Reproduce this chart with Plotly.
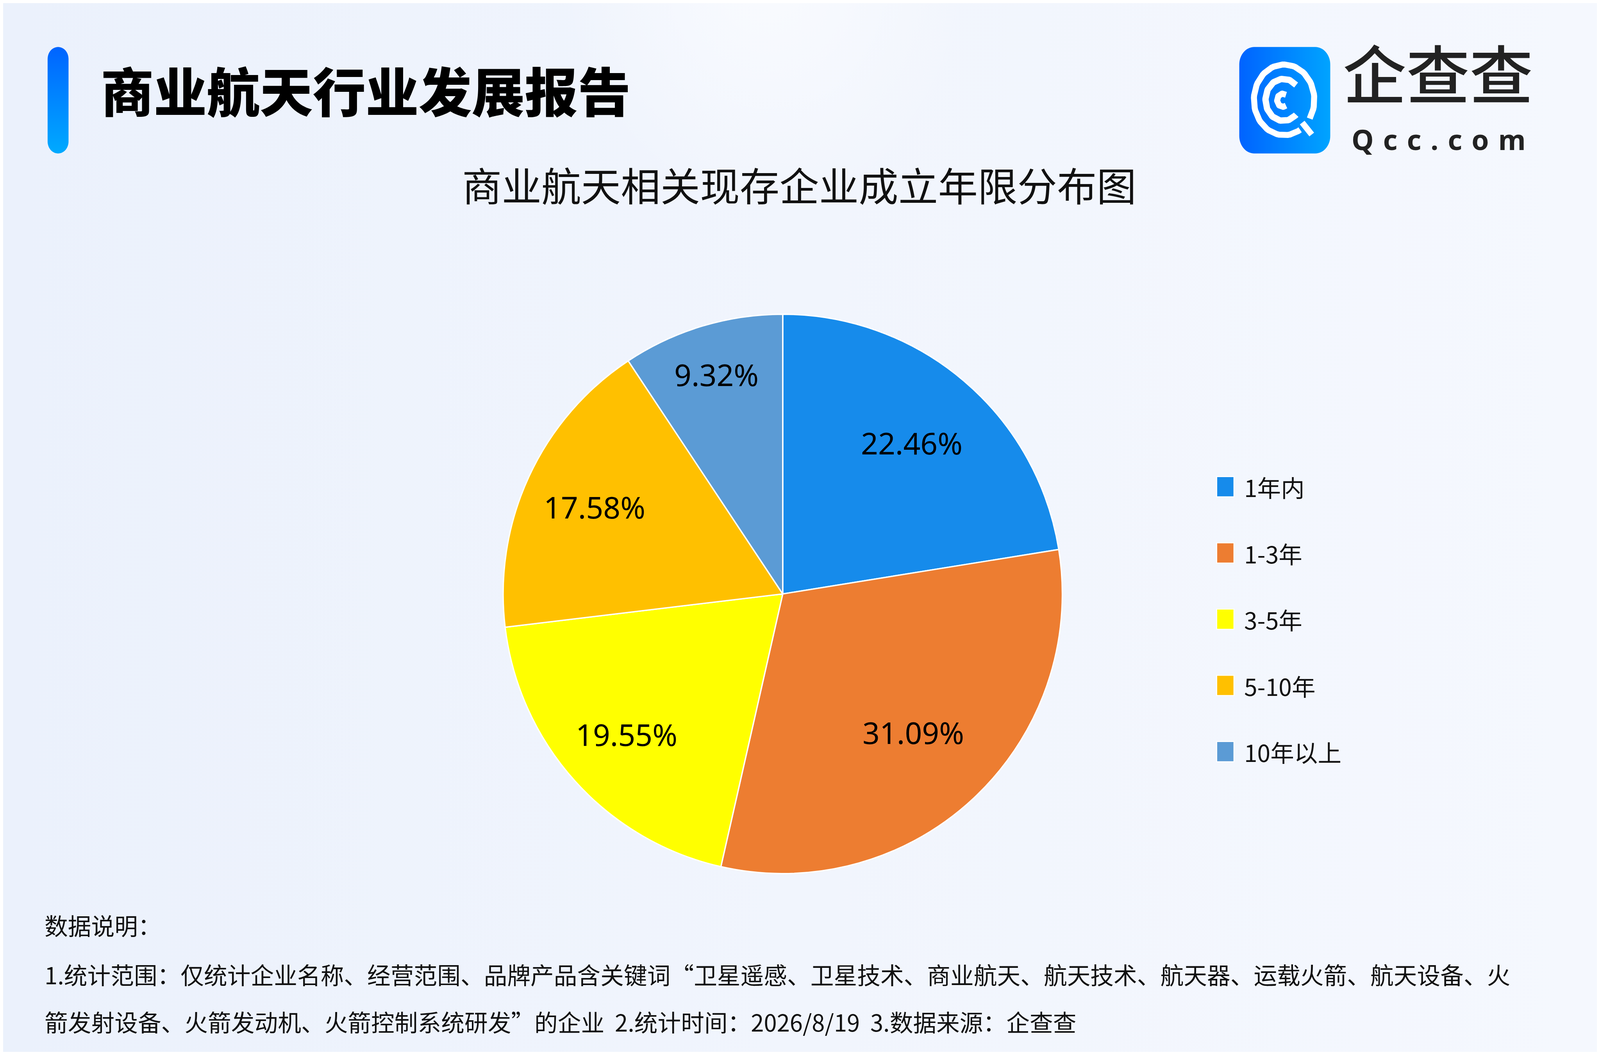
import math
import plotly.graph_objects as go

# Reference canvas: every position below is given in reference pixels
# (4800 x 2700); hidden axes stretch them over whatever page the figure fills.
W, H = 4800, 2700
VW, VH = 4096, 2700          # page size the browser actually provides (CSS px)
KF = VW / W                  # font / stroke scale (CSS px per reference px)

# ---------------- data ----------------
categories = ["1年内", "1-3年", "3-5年", "5-10年", "10年以上"]
shares = [22.46, 31.09, 19.55, 17.58, 9.32]
colors = ["#168BEB", "#ED7D31", "#FFFF00", "#FFC000", "#5B9BD5"]

header_title = "商业航天行业发展报告"
chart_title = "商业航天相关现存企业成立年限分布图"
brand_cn = "企查查"
brand_en = "Q\u2004c\u2004c\u2004.\u2004c\u2004o\u2004m"
note_lines = [
    "数据说明：",
    "1.统计范围：仅统计企业名称、经营范围、品牌产品含关键词“卫星遥感、卫星技术、商业航天、航天技术、航天器、运载火箭、航天设备、火",
    "箭发射设备、火箭发动机、火箭控制系统研发”的企业\u00a0\u00a02.统计时间：2026/8/19\u00a0\u00a03.数据来源：企查查",
]

# label placement style (fraction of the radius, per slice)
label_radius = [0.71, 0.68, 0.75, 0.74, 0.82]

CJK = "Noto Sans CJK SC"


def F(v):
    return v * KF


fig = go.Figure()


def rounded_rect(x0, y0, x1, y1, r, n=16):
    xs, ys = [], []
    corners = [(x1 - r, y0 + r, -90, 0), (x1 - r, y1 - r, 0, 90),
               (x0 + r, y1 - r, 90, 180), (x0 + r, y0 + r, 180, 270)]
    for cx, cy, a0, a1 in corners:
        for k in range(n + 1):
            a = math.radians(a0 + (a1 - a0) * k / n)
            xs.append(cx + r * math.cos(a))
            ys.append(cy + r * math.sin(a))
    xs.append(xs[0]); ys.append(ys[0])
    return xs, ys


def arc(cx, cy, r, t0, t1, n=80):
    xs, ys = [], []
    for k in range(n + 1):
        t = math.radians(t0 + (t1 - t0) * k / n)
        xs.append(cx + r * math.cos(t))
        ys.append(cy - r * math.sin(t))
    return xs, ys


def deco(xs, ys, **kw):
    fig.add_trace(go.Scatter(x=xs, y=ys, hoverinfo="skip", showlegend=False, **kw))


# background tint
deco([0, W, W, 0, 0], [0, 0, H, H, 0], fill="toself", mode="none",
     fillgradient=dict(type="horizontal",
                       colorscale=[[0, "#EBF1FC"], [0.5, "#F1F5FD"], [1, "#F5F8FE"]]))
# soft glow at top
gx, gy = arc(2300, -80, 620, 0, 360, 160)
deco(gx, gy, fill="toself", mode="none",
     fillgradient=dict(type="radial",
                       colorscale=[[0, "rgba(252,253,255,0.75)"], [1, "rgba(252,253,255,0)"]]))

# header accent bar
rx, ry = rounded_rect(134, 113, 197, 387, 31)
deco(rx, ry, fill="toself", mode="none",
     fillgradient=dict(type="vertical", colorscale=[[0, "#00AAFF"], [1, "#0064FF"]]))

# logo square
lx, ly = rounded_rect(3723, 113, 3997, 387, 45)
deco(lx, ly, fill="toself", mode="none",
     fillgradient=dict(type="horizontal", colorscale=[[0, "#0063FF"], [1, "#00A4FF"]]))
# logo rings
ccx, ccy = 3858, 249
for (r, w, t0, t1, dx, dy) in [(91, 18, -32, 302, 0, 0),
                               (54, 19, 45, 315, -2, 0),
                               (17, 18, 55, 305, -4, 1)]:
    ax_, ay_ = arc(ccx + dx, ccy + dy, r, t0, t1)
    deco(ax_, ay_, mode="lines", line=dict(color="white", width=F(w)))
tx, ty = [], []
for rr in (80, 122):
    t = math.radians(-47)
    tx.append(ccx + rr * math.cos(t)); ty.append(ccy - rr * math.sin(t))
deco(tx, ty, mode="lines", line=dict(color="white", width=F(18)))

# pie
cx, cy = 2348, 1521
R_css = 720
hx, hy = R_css / VW, R_css / VH
fig.add_trace(go.Pie(
    labels=categories, values=shares, sort=False, direction="clockwise", rotation=0,
    marker=dict(colors=colors, line=dict(color="white", width=F(4))),
    textinfo="none", hoverinfo="label+value", showlegend=False,
    domain=dict(x=[cx / W - hx, cx / W + hx], y=[1 - cy / H - hy, 1 - cy / H + hy]),
))
Rx, Ry = hx * W, hy * H   # pie radius expressed in reference px along each axis

ann = []
# slice value labels, placed at each slice's mid angle
total = sum(shares)
cum = 0.0
for v, f in zip(shares, label_radius):
    mid = (cum + v / 2) / total * 2 * math.pi
    cum += v
    ann.append(dict(x=cx + f * Rx * math.sin(mid), y=cy - f * Ry * math.cos(mid),
                    xref="x", yref="y", text=f"{v:.2f}%", showarrow=False,
                    xanchor="center", yanchor="middle",
                    font=dict(family="Noto Sans", size=F(90), color="#000000")))

# header title
ann.append(dict(x=292, y=221, xref="x", yref="y", text=header_title, showarrow=False,
                xanchor="left", yanchor="middle",
                font=dict(family=CJK, size=F(159), color="#000000", weight=900)))
# chart title
ann.append(dict(x=2398, y=465, xref="x", yref="y", text=chart_title, showarrow=False,
                xanchor="center", yanchor="middle",
                font=dict(family=CJK, size=F(119), color="#111111")))
# brand text
ann.append(dict(x=4321, y=176, xref="x", yref="y", text=brand_cn, showarrow=False,
                xanchor="center", yanchor="middle", borderpad=0,
                font=dict(family=CJK, size=F(190), color="#222222", weight=500)))
ann.append(dict(x=4323, y=350, xref="x", yref="y", text=brand_en, showarrow=False,
                xanchor="center", yanchor="middle", borderpad=0,
                font=dict(family="Noto Sans", size=F(84), color="#222222", weight=700)))

# legend (drawn from the category / colour arrays)
shapes = []
for i, (lab, col) in enumerate(zip(categories, colors)):
    yc = 1245 + i * 170.5
    shapes.append(dict(type="rect", xref="x", yref="y", x0=3655, x1=3707, y0=yc - 26, y1=yc + 26,
                       fillcolor=col, line=dict(color="white", width=F(3)), layer="above"))
    ann.append(dict(x=3735, y=yc, xref="x", yref="y", text=lab, showarrow=False,
                    xanchor="left", yanchor="middle",
                    font=dict(family=CJK, size=F(71), color="#111111")))

# footnote
for line, y in zip(note_lines, [2373, 2500, 2622]):
    ann.append(dict(x=122, y=y, xref="x", yref="y", text=line, showarrow=False,
                    xanchor="left", yanchor="middle",
                    font=dict(family=CJK, size=F(70), color="#111111")))

fig.update_layout(
    autosize=True,
    margin=dict(l=0, r=0, t=0, b=0, pad=0),
    paper_bgcolor="#F1F5FD", plot_bgcolor="rgba(0,0,0,0)",
    xaxis=dict(range=[0, W], visible=False, fixedrange=True, domain=[0, 1]),
    yaxis=dict(range=[H, 0], visible=False, fixedrange=True, domain=[0, 1]),
    annotations=ann, shapes=shapes, showlegend=False,
)

fig.write_html("out.html")
